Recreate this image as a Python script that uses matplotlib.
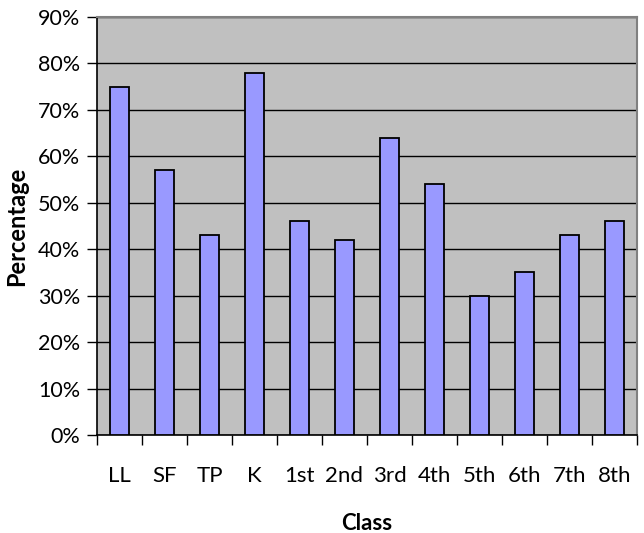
import matplotlib.pyplot as plt
from matplotlib.ticker import PercentFormatter

classes = ['LL', 'SF', 'TP', 'K', '1st', '2nd', '3rd', '4th', '5th', '6th', '7th', '8th']
percentages = [75, 57, 43, 78, 46, 42, 64, 54, 30, 35, 43, 46]

plt.rcParams['font.family'] = ['Lato', 'DejaVu Sans']

fig = plt.figure(figsize=(6.44, 5.33), dpi=100)
ax = fig.add_axes([97 / 644, 1 - 435 / 533, 540 / 644, 418 / 533])
ax.set_facecolor('#c0c0c0')

x = list(range(len(classes)))
ax.bar(x, percentages, width=0.43, color='#9999ff', edgecolor='black', linewidth=1.3, zorder=3)

ax.set_xlim(-0.5, len(classes) - 0.5)
ax.set_ylim(0, 90)
ax.set_yticks(range(0, 91, 10))
ax.yaxis.set_major_formatter(PercentFormatter(decimals=0))
ax.grid(axis='y', color='black', linewidth=1, zorder=1)

ax.set_xticks(x)
ax.set_xticklabels(classes)
ax.set_xticks([i - 0.5 for i in range(len(classes) + 1)], minor=True)
ax.tick_params(axis='x', which='major', length=0, pad=22, labelsize=16)
ax.tick_params(axis='x', which='minor', length=7, width=1, direction='out')
ax.tick_params(axis='y', length=7, width=1, direction='out', pad=5, labelsize=15.5)

for side in ['left', 'bottom']:
    ax.spines[side].set_color('black')
    ax.spines[side].set_linewidth(1.2)
for side in ['top', 'right']:
    ax.spines[side].set_color('#808080')
    ax.spines[side].set_linewidth(1.5)

ax.set_ylabel('Percentage', fontsize=17, fontweight='bold', labelpad=7)
ax.set_xlabel('Class', fontsize=16, fontweight='bold', labelpad=20)

plt.savefig('out.png', dpi=100)
